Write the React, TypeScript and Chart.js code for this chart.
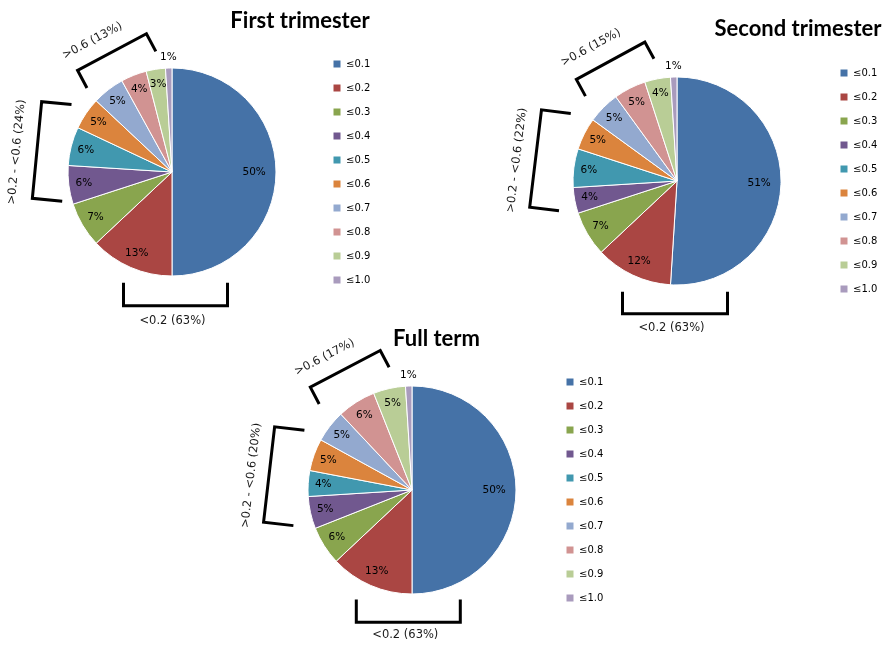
import React, { useEffect, useRef } from 'react';
import { Chart, ArcElement, PieController, Legend } from 'chart.js';

Chart.register(ArcElement, PieController, Legend);

// categories and the three series (percent of cases)
const categories = ['≤0.1', '≤0.2', '≤0.3', '≤0.4', '≤0.5', '≤0.6', '≤0.7', '≤0.8', '≤0.9', '≤1.0'];
const firstTrimester = [50, 13, 7, 6, 6, 5, 5, 4, 3, 1];
const secondTrimester = [51, 12, 7, 4, 6, 5, 5, 5, 4, 1];
const fullTerm = [50, 13, 6, 5, 4, 5, 5, 6, 5, 1];

// bracket groups: label and [first, last) category index
const groupLabels = ['<0.2', '>0.2 - <0.6', '>0.6'];
const groupRanges = [[0, 2], [2, 6], [6, 10]];

const colors = ['#4572A7', '#AA4643', '#89A54E', '#71588F', '#4198AF', '#DB843D', '#93A9CF', '#D19392', '#B9CD96', '#A99BBD'];

const FONT = '"DejaVu Sans", Verdana, sans-serif';
const LEGEND_SIZE = 10;
const LEGEND_BOX = 8;
const LEGEND_PAD = 14;

// draws percent labels, title and the group brackets around the pie
const annotatePlugin = {
  id: 'annotate',
  afterDraw(chart: any, _args: any, opts: any) {
    const { ctx } = chart;
    const meta = chart.getDatasetMeta(0);
    const values = chart.data.datasets[0].data as number[];
    const total = values.reduce((a, b) => a + b, 0);
    const { x: cx, y: cy, outerRadius: r } = meta.data[0].getProps(['x', 'y', 'outerRadius'], true);

    ctx.save();
    ctx.fillStyle = '#000';
    ctx.textAlign = 'center';
    ctx.textBaseline = 'middle';
    ctx.font = `10.5px ${FONT}`;
    meta.data.forEach((arc: any, i: number) => {
      const { startAngle, endAngle } = arc.getProps(['startAngle', 'endAngle'], true);
      const mid = (startAngle + endAngle) / 2;
      const share = values[i] / total;
      const k = share < 0.02 ? r + 11 : share > 0.25 ? r * 0.79 : r * 0.855;
      ctx.fillText(`${values[i]}%`, cx + Math.cos(mid) * k, cy + Math.sin(mid) * k);
    });

    ctx.font = 'bold 22px Lato, sans-serif';
    ctx.textBaseline = 'alphabetic';
    ctx.fillText(opts.title, cx + opts.titleDx, cy + opts.titleDy);

    ctx.strokeStyle = '#000';
    ctx.lineWidth = 3;
    ctx.lineJoin = 'miter';
    ctx.font = `11.5px ${FONT}`;
    ctx.fillStyle = '#1a1a1a';
    ctx.textBaseline = 'middle';
    opts.brackets.forEach((b: any, g: number) => {
      const [from, to] = groupRanges[g];
      const sum = values.slice(from, to).reduce((a, v) => a + v, 0);
      ctx.save();
      ctx.translate(cx + b.x, cy + b.y);
      ctx.rotate((b.rot * Math.PI) / 180);
      ctx.beginPath();
      ctx.moveTo(-b.half, b.leg);
      ctx.lineTo(-b.half, 0);
      ctx.lineTo(b.half, 0);
      ctx.lineTo(b.half, b.leg);
      ctx.stroke();
      ctx.fillText(`${groupLabels[g]} (${sum}%)`, b.lx, b.gap);
      ctx.restore();
    });
    ctx.restore();
  }
};

interface PieProps {
  values: number[];
  title: string;
  left: number;
  top: number;
  width: number;
  height: number;
  padLeft: number;
  legendLeft: number; // legend box start, canvas coords
  titleDx: number;
  titleDy: number;
  brackets: any[];
}

const TrimesterPie: React.FC<PieProps> = (p) => {
  const canvasRef = useRef<HTMLCanvasElement>(null);

  useEffect(() => {
    const canvas = canvasRef.current;
    if (!canvas) return;

    // legend width as Chart.js computes it, so the legend lands where we want it
    const mctx = canvas.getContext('2d')!;
    mctx.font = `${LEGEND_SIZE}px ${FONT}`;
    const textW = Math.max(...categories.map(c => mctx.measureText(c).width));
    const legendW = LEGEND_PAD + LEGEND_BOX + LEGEND_SIZE / 2 + textW + 10;
    const padRight = p.width - p.legendLeft - legendW;

    const chart = new Chart(canvas, {
      type: 'pie',
      data: {
        labels: categories,
        datasets: [{
          data: p.values,
          backgroundColor: colors,
          borderColor: '#fff',
          borderWidth: 1
        }]
      },
      options: {
        responsive: false,
        animation: false,
        events: [],
        radius: 104,
        layout: { padding: { left: p.padLeft, right: padRight, top: 0, bottom: 0 } },
        plugins: {
          legend: {
            position: 'right',
            align: 'center',
            labels: {
              boxWidth: LEGEND_BOX,
              boxHeight: LEGEND_BOX,
              padding: LEGEND_PAD,
              color: '#000',
              font: { family: FONT, size: LEGEND_SIZE }
            }
          },
          tooltip: { enabled: false },
          annotate: { title: p.title, titleDx: p.titleDx, titleDy: p.titleDy, brackets: p.brackets }
        }
      } as any,
      plugins: [annotatePlugin]
    });
    return () => chart.destroy();
  }, [p]);

  return (
    <canvas
      ref={canvasRef}
      width={p.width}
      height={p.height}
      style={{ position: 'absolute', left: p.left, top: p.top, width: p.width, height: p.height }}
    />
  );
};

export default function App() {
  return (
    <div style={{ position: 'fixed', left: 0, top: 0, width: 892, height: 655, overflow: 'hidden', background: '#fff' }}>
      <TrimesterPie
        values={firstTrimester}
        title="First trimester"
        left={0} top={0} width={446} height={344}
        padLeft={25} legendLeft={319}
        titleDx={128} titleDy={-144}
        brackets={[
          { x: 3.5, y: 133.7, rot: 0, half: 52, leg: -23, gap: 15, lx: -3 },
          { x: -135, y: -22, rot: -84.5, half: 48.5, leg: 30, gap: -20, lx: -4 },
          { x: -60, y: -120, rot: -28, half: 39, leg: 20, gap: -19, lx: -12 }
        ]}
      />
      <TrimesterPie
        values={secondTrimester}
        title="Second trimester"
        left={450} top={9} width={442} height={344}
        padLeft={78} legendLeft={376}
        titleDx={121} titleDy={-145}
        brackets={[
          { x: -2, y: 132.8, rot: 0, half: 52.5, leg: -22, gap: 14, lx: -3.5 },
          { x: -141.4, y: -22.5, rot: -83.1, half: 49, leg: 29.5, gap: -18.4, lx: -4 },
          { x: -66.4, y: -120.2, rot: -28.6, half: 39, leg: 19, gap: -21, lx: -11 }
        ]}
      />
      <TrimesterPie
        values={fullTerm}
        title="Full term"
        left={220} top={322} width={420} height={336}
        padLeft={52} legendLeft={332}
        titleDx={24.5} titleDy={-144}
        brackets={[
          { x: -3.7, y: 132.2, rot: 0, half: 52, leg: -22.7, gap: 13, lx: -3 },
          { x: -142.9, y: -15.5, rot: -83.4, half: 48, leg: 30, gap: -17.6, lx: -3 },
          { x: -66.7, y: -121.2, rot: -27.7, half: 39.5, leg: 19, gap: -19.8, lx: -13 }
        ]}
      />
    </div>
  );
}
